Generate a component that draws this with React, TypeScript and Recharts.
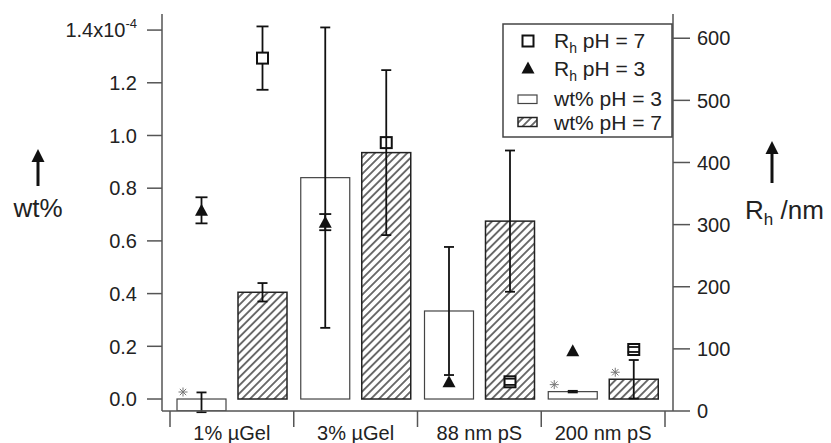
import React from 'react';
import { ComposedChart, Bar, XAxis, YAxis, ErrorBar } from 'recharts';

const FONT = '"Liberation Sans", Arial, Helvetica, sans-serif';
const INK = '#222';

// wt% values are in units of 1e-4 (left axis), Rh in nm (right axis)
const categories = ['1% µGel', '3% µGel', '88 nm pS', '200 nm pS'];
const wtPh3 = [-0.045, 0.84, 0.334, 0.028];
const wtPh3Err = [[0.005, 0.07], [0.57, 0.57], [0.243, 0.243], [0.003, 0.003]];
const wtPh7 = [0.405, 0.935, 0.675, 0.075];
const wtPh7Err = [0.035, 0.313, 0.268, 0.073];
const rhPh3 = [323, 304, 47, 97];
const rhPh3Err = [21, 13, 0, 0];
const rhPh7 = [568, 432, 47, 99];
const rhPh7Err = [51, 0, 5, 4];
const starPh3 = [true, false, false, true];
const starPh7 = [false, false, false, true];
const leftTicks = [0, 0.2, 0.4, 0.6, 0.8, 1.0, 1.2, 1.4];
const rightTicks = [0, 100, 200, 300, 400, 500, 600];

const data = categories.map((cat, i) => ({
  cat,
  wt3: wtPh3[i],
  wt3Err: wtPh3Err[i],
  wt7: wtPh7[i],
  wt7Err: wtPh7Err[i],
  rh3: rhPh3[i],
  rh3Err: rhPh3Err[i],
  rh7: rhPh7[i],
  rh7Err: rhPh7Err[i],
  star3: starPh3[i],
  star7: starPh7[i],
}));

function Star({ cx, cy }: { cx: number; cy: number }) {
  const r = 4.5;
  const d = r * 0.707;
  return (
    <g stroke="#777" strokeWidth={1}>
      <line x1={cx} y1={cy - r} x2={cx} y2={cy + r} />
      <line x1={cx - r} y1={cy} x2={cx + r} y2={cy} />
      <line x1={cx - d} y1={cy - d} x2={cx + d} y2={cy + d} />
      <line x1={cx - d} y1={cy + d} x2={cx + d} y2={cy - d} />
    </g>
  );
}

const wtShape = (fill: string, stroke: string, sw: number, starKey: string) => (p: any) => {
  const top = Math.min(p.y, p.y + p.height);
  const h = Math.abs(p.height);
  return (
    <g>
      <rect x={p.x} y={top} width={p.width} height={h} fill={fill} stroke={stroke} strokeWidth={sw} />
      {p.payload[starKey] && <Star cx={p.x + 6} cy={top - 7} />}
    </g>
  );
};

// markers for Rh, drawn on an invisible bar so they sit over the matching wt% bar
const rhShape = (kind: 'sq' | 'tri', key: string, errKey: string) => (p: any) => {
  const v = p.payload[key];
  const cx = p.x + p.width / 2;
  const cy = p.y;
  const k = v ? Math.abs(p.height) / v : 0;
  const e = (p.payload[errKey] || 0) * k;
  return (
    <g>
      {e > 0 && <line x1={cx} x2={cx} y1={cy - e} y2={cy + e} stroke="#111" strokeWidth={1.8} />}
      {kind === 'sq' ? (
        <rect x={cx - 5.5} y={cy - 5.5} width={11} height={11} fill="#fff" stroke="#111" strokeWidth={2} />
      ) : (
        <polygon points={`${cx},${cy - 6.5} ${cx - 6.5},${cy + 5.5} ${cx + 6.5},${cy + 5.5}`} fill="#111" />
      )}
      {e > 0 && (
        <g stroke="#111" strokeWidth={1.8}>
          <line x1={cx - 6} x2={cx + 6} y1={cy - e} y2={cy - e} />
          <line x1={cx - 6} x2={cx + 6} y1={cy + e} y2={cy + e} />
        </g>
      )}
    </g>
  );
};

const LeftTick = (p: any) => {
  const v = p.payload.value;
  return (
    <text x={p.x} y={p.y} dy="0.36em" textAnchor="end" fontSize={20} fill={INK} fontFamily={FONT}>
      {v === 1.4 ? (
        <>
          1.4x10<tspan dy={-9} fontSize={13}>-4</tspan>
        </>
      ) : (
        v.toFixed(1)
      )}
    </text>
  );
};

const RightTick = (p: any) => (
  <text x={p.x} y={p.y} dy="0.36em" textAnchor="start" fontSize={20} fill={INK} fontFamily={FONT}>
    {p.payload.value}
  </text>
);

// ticks sit on the category boundaries, labels in the middle
const CatTick = (p: any) => {
  const off = p.payload.offset || 0;
  const last = p.index === categories.length - 1;
  return (
    <g>
      <line x1={p.x - off} x2={p.x - off} y1={p.y} y2={p.y + 16} stroke="#555" strokeWidth={1.5} />
      {last && <line x1={p.x + off} x2={p.x + off} y1={p.y} y2={p.y + 16} stroke="#555" strokeWidth={1.5} />}
      <text x={p.x} y={p.y + 29} textAnchor="middle" fontSize={20} fill={INK} fontFamily={FONT}>
        {p.payload.value}
      </text>
    </g>
  );
};

function Overlay() {
  return (
    <svg width={831} height={443} style={{ position: 'absolute', left: 0, top: 0, pointerEvents: 'none' }} fontFamily={FONT}>
      <defs>
        <pattern id="hatchLegend" patternUnits="userSpaceOnUse" width="5.7" height="5.7" patternTransform="rotate(45)">
          <line x1="2.85" y1="0" x2="2.85" y2="5.7" stroke="#222" strokeWidth="1.3" />
        </pattern>
      </defs>
      {/* left axis title */}
      <line x1={38} x2={38} y1={158} y2={186} stroke="#111" strokeWidth={3} />
      <polygon points="38,149 31.5,162 44.5,162" fill="#111" />
      <text x={38} y={217} textAnchor="middle" fontSize={26} fill={INK}>wt%</text>
      {/* right axis title */}
      <line x1={772} x2={772} y1={150} y2={183} stroke="#111" strokeWidth={3} />
      <polygon points="772,141 765.5,154 778.5,154" fill="#111" />
      <text x={745} y={219} fontSize={26} fill={INK}>
        R<tspan dy={6} fontSize={17}>h</tspan>
        <tspan dy={-6}> /nm</tspan>
      </text>
      {/* legend */}
      <rect x={503} y={24} width={169} height={113} fill="#fff" stroke="#444" strokeWidth={1.5} />
      <rect x={522.5} y={35.5} width={11} height={11} fill="#fff" stroke="#111" strokeWidth={2} />
      <text x={554} y={48} fontSize={21} fill={INK}>
        R<tspan dy={5} fontSize={14}>h</tspan>
        <tspan dy={-5}> pH = 7</tspan>
      </text>
      <polygon points="528,61.5 521.5,73.5 534.5,73.5" fill="#111" />
      <text x={554} y={76} fontSize={21} fill={INK}>
        R<tspan dy={5} fontSize={14}>h</tspan>
        <tspan dy={-5}> pH = 3</tspan>
      </text>
      <rect x={518} y={95} width={19} height={8.5} fill="#fff" stroke="#444" strokeWidth={1.2} />
      <text x={554} y={106} fontSize={21} fill={INK}>wt% pH = 3</text>
      <rect x={518} y={117.5} width={19} height={9} fill="url(#hatchLegend)" stroke="#222" strokeWidth={1.5} />
      <text x={554} y={130} fontSize={21} fill={INK}>wt% pH = 7</text>
    </svg>
  );
}

export default function App() {
  return (
    <div style={{ position: 'absolute', left: 0, top: 0, width: 831, height: 443, background: '#fff' }}>
      <ComposedChart
        width={831}
        height={443}
        data={data}
        margin={{ top: 14, right: 58, bottom: 0, left: 62 }}
        barCategoryGap={7}
        barGap={12}
      >
        <defs>
          <pattern id="hatch" patternUnits="userSpaceOnUse" width="5.7" height="5.7" patternTransform="rotate(45)">
            <line x1="2.85" y1="0" x2="2.85" y2="5.7" stroke="#222" strokeWidth="1.3" />
          </pattern>
        </defs>
        <XAxis
          xAxisId="main"
          dataKey="cat"
          height={32}
          padding={{ left: 8, right: 8 }}
          axisLine={{ stroke: '#555', strokeWidth: 1.5 }}
          tickLine={false}
          tickSize={0}
          tickMargin={0}
          interval={0}
          tick={<CatTick />}
        />
        <XAxis xAxisId="rh" dataKey="cat" hide padding={{ left: 8, right: 8 }} />
        <YAxis
          yAxisId="left"
          width={100}
          domain={[-0.0455, 1.461]}
          allowDataOverflow
          ticks={leftTicks}
          interval={0}
          axisLine={{ stroke: '#555', strokeWidth: 1.5 }}
          tickLine={{ stroke: '#555', strokeWidth: 1.5 }}
          tickSize={15}
          tickMargin={10}
          tick={<LeftTick />}
        />
        <YAxis
          yAxisId="right"
          orientation="right"
          width={100}
          domain={[0, 639]}
          allowDataOverflow
          ticks={rightTicks}
          interval={0}
          axisLine={{ stroke: '#555', strokeWidth: 1.5 }}
          tickLine={{ stroke: '#555', strokeWidth: 1.5 }}
          tickSize={17}
          tickMargin={7}
          tick={<RightTick />}
        />
        <Bar xAxisId="main" yAxisId="left" dataKey="wt3" isAnimationActive={false} shape={wtShape('#fff', '#444', 1.2, 'star3')}>
          <ErrorBar dataKey="wt3Err" width={5} stroke="#111" strokeWidth={1.8} />
        </Bar>
        <Bar xAxisId="main" yAxisId="left" dataKey="wt7" isAnimationActive={false} shape={wtShape('url(#hatch)', '#222', 1.5, 'star7')}>
          <ErrorBar dataKey="wt7Err" width={5} stroke="#111" strokeWidth={1.8} />
        </Bar>
        <Bar xAxisId="rh" yAxisId="right" dataKey="rh3" isAnimationActive={false} shape={rhShape('tri', 'rh3', 'rh3Err')} />
        <Bar xAxisId="rh" yAxisId="right" dataKey="rh7" isAnimationActive={false} shape={rhShape('sq', 'rh7', 'rh7Err')} />
      </ComposedChart>
      <Overlay />
    </div>
  );
}
